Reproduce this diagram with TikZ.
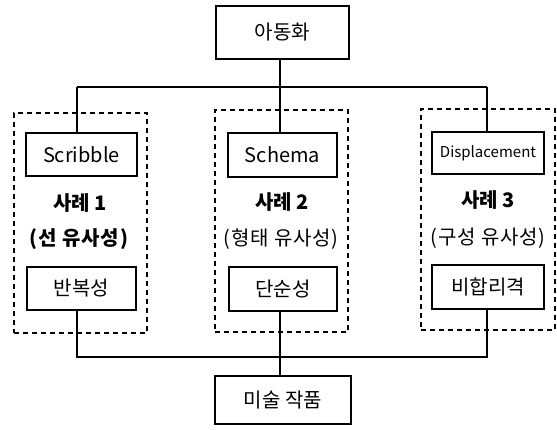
\documentclass[tikz,border=0pt]{standalone}
\usepackage{fontspec}
\setmainfont{Noto Sans CJK KR}
\begin{document}
\begin{tikzpicture}[x=1pt,y=-1pt,
  box/.style={draw,line width=1.5pt,inner sep=0pt,font=\fontsize{20}{24}\selectfont},
  grp/.style={draw,line width=1.4pt,dash pattern=on 5pt off 4pt},
  lbl/.style={font=\fontsize{20}{24}\selectfont\bfseries,inner sep=0pt},
  sub/.style={font=\fontsize{20}{24}\selectfont\addfontfeature{LetterSpace=4},inner sep=0pt},
  conn/.style={line width=1.2pt}]
\useasboundingbox (0,0) rectangle (557,429);
% dashed groups
\node[grp,minimum width=133pt,minimum height=220pt] (g1) at (80.5,223) {};
\node[grp,minimum width=133pt,minimum height=222pt] (g2) at (281.5,221) {};
\node[grp,minimum width=134pt,minimum height=221pt] (g3) at (488,219.5) {};
% boxes
\node[box,minimum width=133pt,minimum height=53pt] (top) at (282.5,32.5) {아동화};
\node[box,minimum width=111pt,minimum height=43pt] (scr) at (81.5,154.5) {Scribble};
\node[box,minimum width=109pt,minimum height=44pt] (sch) at (282.5,155) {Schema};
\node[box,minimum width=112pt,minimum height=42pt] (dis) at (488,153) {\fontsize{15}{18}\selectfont Displacement};
\node[box,minimum width=109pt,minimum height=43pt] (rep) at (81.5,288.5) {반복성};
\node[box,minimum width=108pt,minimum height=44pt] (simp) at (283,289) {단순성};
\node[box,minimum width=112pt,minimum height=44pt] (irr) at (488,287) {비합리격};
\node[box,minimum width=136pt,minimum height=48pt] (art) at (283,400) {미술 작품};
% labels
\node[lbl] (c1) at (80,203) {사례 1};
\node[sub,font=\fontsize{20}{24}\selectfont\bfseries\addfontfeature{LetterSpace=4}] (p1) at (79,239) {(선 유사성)};
\node[lbl] (c2) at (282,202) {사례 2};
\node[sub] (p2) at (281,239) {(형태 유사성)};
\node[lbl] (c3) at (488,200) {사례 3};
\node[sub] (p3) at (488,238) {(구성 유사성)};
% connectors
\coordinate (cx) at (280,0);
\coordinate (L) at (77,87);
\coordinate (R) at (487,87);
\coordinate (BL) at (77,357);
\coordinate (BR) at (487,357);
\draw[conn] (top.south -| cx) -- (sch.north -| cx);
\draw[conn] (L) -- (R);
\draw[conn] (L) -- (scr.north -| L);
\draw[conn] (R) -- (dis.north -| R);
\draw[conn] (rep.south -| BL) -- (BL) -- (BR) -- (irr.south -| BR);
\draw[conn] (simp.south -| cx) -- (art.north -| cx);
\end{tikzpicture}
\end{document}
